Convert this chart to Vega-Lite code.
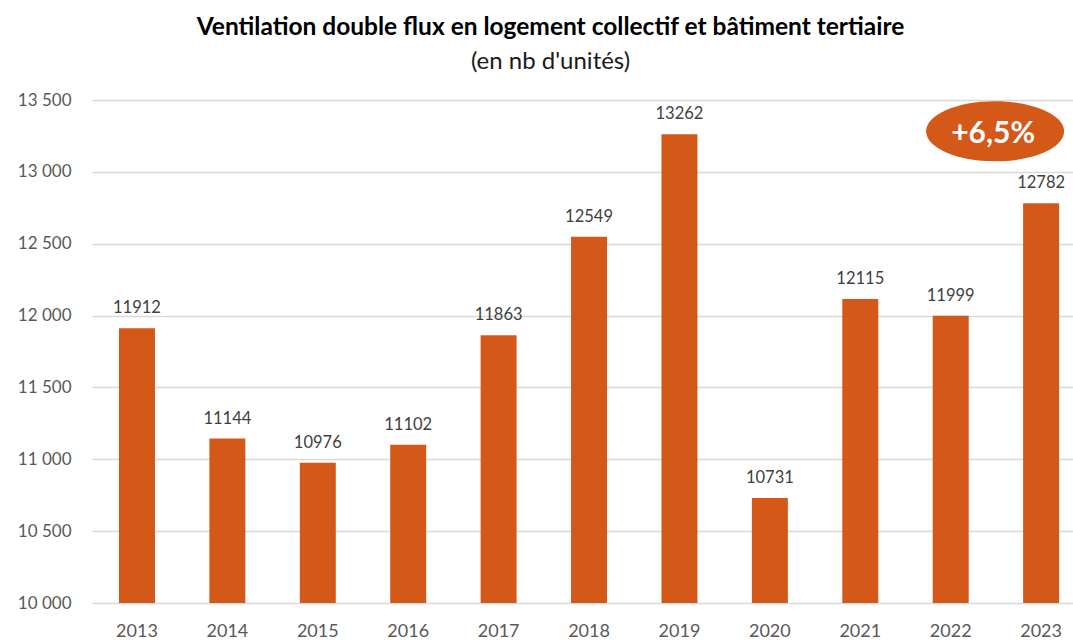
{
  "$schema": "https://vega.github.io/schema/vega-lite/v6.json",
  "width": 981,
  "height": 503,
  "autosize": {"type": "none"},
  "padding": {"left": 92, "top": 100, "right": 0, "bottom": 37},
  "background": "white",
  "config": {"view": {"stroke": null}, "font": "Lato"},
  "title": {
    "text": "Ventilation double flux en logement collectif et bâtiment tertiaire",
    "subtitle": "(en nb d'unités)",
    "anchor": "middle",
    "frame": "group",
    "dx": -32,
    "offset": 16,
    "font": "Lato",
    "fontSize": 24.5,
    "fontWeight": "bold",
    "color": "#000000",
    "subtitleFont": "Lato",
    "subtitleFontSize": 24,
    "subtitleColor": "#1a1a1a",
    "subtitlePadding": 10
  },
  "datasets": {
    "bars": [
      {"year": "2013", "value": 11912},
      {"year": "2014", "value": 11144},
      {"year": "2015", "value": 10976},
      {"year": "2016", "value": 11102},
      {"year": "2017", "value": 11863},
      {"year": "2018", "value": 12549},
      {"year": "2019", "value": 13262},
      {"year": "2020", "value": 10731},
      {"year": "2021", "value": 12115},
      {"year": "2022", "value": 11999},
      {"year": "2023", "value": 12782}
    ],
    "badge": [
      {"year": "2023", "value": 13282, "label": "+6,5%"}
    ]
  },
  "encoding": {
    "x": {
      "field": "year",
      "type": "nominal",
      "scale": {"paddingInner": 0.602, "paddingOuter": 0.226, "align": 0.66},
      "axis": {
        "title": null,
        "ticks": false,
        "domain": false,
        "labelAngle": 0,
        "labelFont": "Lato",
        "labelFontSize": 18,
        "labelColor": "#595959",
        "labelPadding": 19
      }
    },
    "y": {
      "field": "value",
      "type": "quantitative",
      "scale": {"domain": [10000, 13500], "zero": false, "nice": false},
      "axis": {
        "title": null,
        "values": [10000, 10500, 11000, 11500, 12000, 12500, 13000, 13500],
        "labelExpr": "replace(format(datum.value, ','), ',', ' ')",
        "ticks": false,
        "domain": false,
        "grid": true,
        "gridColor": "#D9D9D9",
        "gridWidth": 1.3,
        "labelFont": "Lato",
        "labelFontSize": 17,
        "labelColor": "#595959",
        "labelPadding": 21
      }
    }
  },
  "layer": [
    {
      "data": {"name": "bars"},
      "mark": {"type": "bar", "color": "#D45818", "clip": true}
    },
    {
      "data": {"name": "bars"},
      "mark": {"type": "text", "baseline": "bottom", "dy": -12, "font": "Lato", "fontSize": 16.5, "color": "#404040"},
      "encoding": {"text": {"field": "value", "type": "quantitative", "format": "d"}}
    },
    {
      "data": {"name": "badge"},
      "mark": {
        "type": "point",
        "shape": "M-1,0A1,0.435,0,1,1,1,0A1,0.435,0,1,1,-1,0Z",
        "size": 19044,
        "filled": true,
        "opacity": 1,
        "color": "#D45818",
        "xOffset": -46
      }
    },
    {
      "data": {"name": "badge"},
      "mark": {
        "type": "text",
        "baseline": "middle",
        "align": "center",
        "font": "Lato",
        "fontSize": 30,
        "fontWeight": "bold",
        "color": "#FFFFFF",
        "xOffset": -48,
        "dy": 3
      },
      "encoding": {"text": {"field": "label", "type": "nominal"}}
    }
  ]
}
